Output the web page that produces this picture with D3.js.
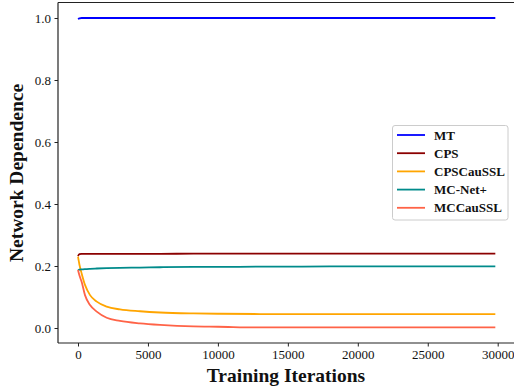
<!DOCTYPE html>
<html>
<head>
<meta charset="utf-8">
<script src="https://cdn.jsdelivr.net/npm/d3@7"></script>
<style>
  html, body { margin: 0; padding: 0; background: #fff; }
  svg { display: block; }
  svg text { font-family: "Liberation Serif", "Times New Roman", serif !important; }
</style>
</head>
<body>
<svg id="chart" width="514" height="387"></svg>
<script>
const iterations = [0, 100, 260, 500, 860, 1340, 2050, 3000, 4430, 5860, 8240, 10000, 13000, 16000, 20000, 25000, 29830];
const seriesNames = ["MT", "CPS", "CPSCauSSL", "MC-Net+", "MCCauSSL"];
const mtValues        = [0.997, 0.999, 1.0, 1.0, 1.0, 1.0, 1.0, 1.0, 1.0, 1.0, 1.0, 1.0, 1.0, 1.0, 1.0, 1.0, 1.0];
const cpsValues       = [0.232, 0.238, 0.239, 0.239, 0.239, 0.239, 0.239, 0.239, 0.239, 0.239, 0.240, 0.240, 0.240, 0.240, 0.240, 0.240, 0.240];
const cpsCauValues    = [0.230, 0.205, 0.176, 0.139, 0.106, 0.085, 0.069, 0.060, 0.054, 0.050, 0.047, 0.046, 0.045, 0.045, 0.045, 0.045, 0.045];
const mcNetValues     = [0.185, 0.188, 0.189, 0.190, 0.191, 0.192, 0.193, 0.194, 0.195, 0.196, 0.197, 0.197, 0.198, 0.198, 0.199, 0.199, 0.199];
const mcCauValues     = [0.187, 0.170, 0.149, 0.106, 0.074, 0.053, 0.033, 0.023, 0.015, 0.010, 0.005, 0.004, 0.002, 0.002, 0.002, 0.002, 0.002];
const seriesColors = ["#0000ff", "#8b0000", "#ffa500", "#008b8b", "#ff6347"];
const xTicks = [0, 5000, 10000, 15000, 20000, 25000, 30000];
const yTicks = [0.0, 0.2, 0.4, 0.6, 0.8, 1.0];

const allValues = [mtValues, cpsValues, cpsCauValues, mcNetValues, mcCauValues];

const svg = d3.select("#chart");
const pLeft = 58, pRight = 520, pTop = 2.5, pBottom = 343;

const x = d3.scaleLinear().domain([0, 30000]).range([78, 497.7]);
const y = d3.scaleLinear().domain([0, 1]).range([328, 18]);

// spines
const axisColor = "#222";
svg.append("line").attr("x1", pLeft).attr("x2", pRight).attr("y1", pTop).attr("y2", pTop)
  .attr("stroke", axisColor).attr("stroke-width", 1.2);

const xAxis = d3.axisBottom(x).tickValues(xTicks).tickFormat(d3.format("d")).tickSize(3.5).tickPadding(3.5);
const gx = svg.append("g").attr("transform", `translate(0,${pBottom})`).call(xAxis);
gx.select(".domain").remove();
gx.append("line").attr("x1", pLeft).attr("x2", pRight).attr("stroke", axisColor).attr("stroke-width", 1.2);

const yAxis = d3.axisLeft(y).tickValues(yTicks).tickFormat(d3.format(".1f")).tickSize(3.5).tickPadding(3.5);
const gy = svg.append("g").attr("transform", `translate(${pLeft},0)`).call(yAxis);
gy.select(".domain").remove();
gy.append("line").attr("y1", pTop).attr("y2", pBottom).attr("stroke", axisColor).attr("stroke-width", 1.2);

[gx, gy].forEach(g => {
  g.attr("font-family", null).style("font-family", "'Liberation Serif', serif");
  g.selectAll(".tick line").attr("stroke", axisColor).attr("stroke-width", 1);
  g.selectAll(".tick text").style("font-family", "'Liberation Serif', serif").attr("font-size", 13).attr("fill", "#111");
});

// lines
const line = d3.line().x((d, i) => x(iterations[i])).y(d => y(d)).curve(d3.curveMonotoneX);
allValues.forEach((vals, k) => {
  svg.append("path").datum(vals).attr("d", line)
    .attr("fill", "none").attr("stroke", seriesColors[k]).attr("stroke-width", 1.8);
});

// axis labels
svg.append("text").attr("x", 286).attr("y", 382).attr("text-anchor", "middle")
  .attr("font-size", 19.5).attr("font-weight", "bold").attr("fill", "#111").text("Training Iterations");
svg.append("text").attr("transform", "translate(23,173) rotate(-90)").attr("text-anchor", "middle")
  .attr("font-size", 19.5).attr("font-weight", "bold").attr("fill", "#111").text("Network Dependence");

// legend
const lg = svg.append("g");
lg.append("rect").attr("x", 392.5).attr("y", 125.5).attr("width", 115.5).attr("height", 94.5).attr("rx", 2.5)
  .attr("fill", "#fff").attr("fill-opacity", 0.8).attr("stroke", "#ccc").attr("stroke-width", 1);
seriesNames.forEach((name, i) => {
  const yy = 135 + i * 18.2;
  lg.append("line").attr("x1", 397).attr("x2", 425).attr("y1", yy).attr("y2", yy)
    .attr("stroke", seriesColors[i]).attr("stroke-width", 1.8);
  lg.append("text").attr("x", 434).attr("y", yy + 4.5).attr("font-size", 13).attr("font-weight", "bold")
    .attr("fill", "#111").text(name);
});
</script>
</body>
</html>
